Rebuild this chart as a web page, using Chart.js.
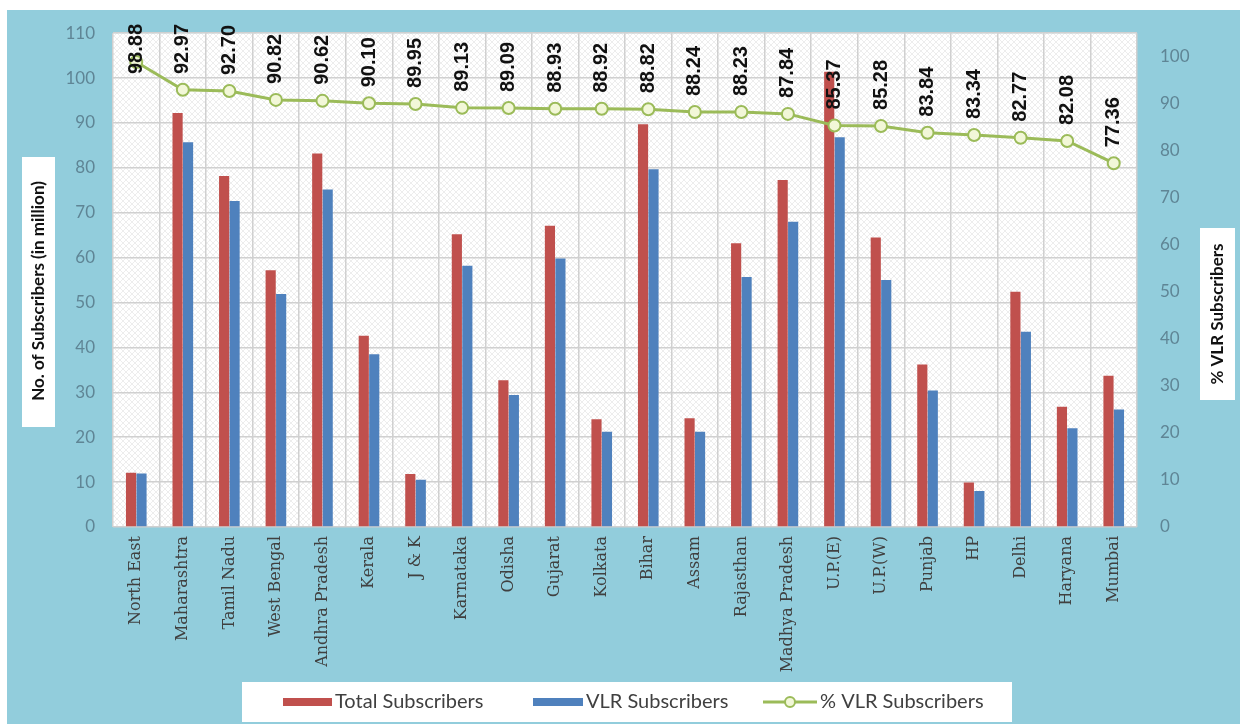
<!DOCTYPE html>
<html><head><meta charset="utf-8">
<script src="https://cdn.jsdelivr.net/npm/chart.js@4"></script>
<style>html,body{margin:0;padding:0;background:#fff;} canvas{display:block;}</style>
</head><body>
<canvas id="c" width="1240" height="724"></canvas>
<script>
const categories = ["North East","Maharashtra","Tamil Nadu","West Bengal","Andhra Pradesh","Kerala","J & K","Karnataka","Odisha","Gujarat","Kolkata","Bihar","Assam","Rajasthan","Madhya Pradesh","U.P.(E)","U.P.(W)","Punjab","HP","Delhi","Haryana","Mumbai"];
const totalSubscribers = [12.1,92.2,78.2,57.2,83.2,42.6,11.8,65.2,32.7,67.1,24.0,89.7,24.2,63.2,77.3,101.4,64.5,36.2,9.9,52.4,26.8,33.7];
const vlrSubscribers = [11.9,85.7,72.6,51.9,75.2,38.5,10.5,58.2,29.4,59.8,21.2,79.7,21.2,55.7,68.0,86.8,55.0,30.4,8.0,43.5,22.0,26.2];
const vlrPercent = [98.88,92.97,92.70,90.82,90.62,90.10,89.95,89.13,89.09,88.93,88.92,88.82,88.24,88.23,87.84,85.37,85.28,83.84,83.34,82.77,82.08,77.36];
const leftAxis = {min:0, max:110, step:10};
const rightAxis = {min:0, max:105, step:10};
const seriesNames = ["Total Subscribers","VLR Subscribers","% VLR Subscribers"];
const axisTitles = ["No. of Subscribers (in million)","% VLR Subscribers"];

const RED='#c0504d', BLUE='#4f81bd', GREEN='#9bbb59', BG='#92cddc';

function makePattern(ctx){
  const p=document.createElement('canvas'); p.width=6; p.height=6;
  const c=p.getContext('2d');
  c.fillStyle='#ffffff'; c.fillRect(0,0,6,6);
  c.strokeStyle='rgba(0,0,0,0.07)'; c.lineWidth=1;
  c.beginPath(); c.moveTo(0,0); c.lineTo(6,6); c.moveTo(6,0); c.lineTo(0,6); c.stroke();
  return ctx.createPattern(p,'repeat');
}

const decor = {
  id:'decor',
  beforeDraw(chart){
    const ctx=chart.ctx, W=chart.width, H=chart.height, a=chart.chartArea;
    ctx.save();
    ctx.fillStyle='#fff'; ctx.fillRect(0,0,W,H);
    ctx.fillStyle=BG; ctx.fillRect(7,10,W-7,H-10);
    ctx.fillStyle=makePattern(ctx); ctx.fillRect(a.left,a.top,a.right-a.left,a.bottom-a.top);
    ctx.restore();
  },
  afterDatasetsDraw(chart){
    const ctx=chart.ctx;
    const meta=chart.getDatasetMeta(0);
    ctx.save();
    ctx.font='bold 20px "Liberation Sans", Arial, sans-serif';
    ctx.fillStyle='#111';
    ctx.textAlign='left'; ctx.textBaseline='middle';
    meta.data.forEach((pt,i)=>{
      const txt=vlrPercent[i].toFixed(2);
      const w=ctx.measureText(txt).width;
      let base=pt.y-16;
      if(base-w<24) base=24+w;
      ctx.save(); ctx.translate(pt.x,base); ctx.rotate(-Math.PI/2);
      ctx.fillText(txt,0,0); ctx.restore();
    });
    ctx.restore();
  },
  afterDraw(chart){
    const ctx=chart.ctx;
    ctx.save();
    // axis titles
    ctx.font='bold 17px Lato, sans-serif';
    ctx.textAlign='center'; ctx.textBaseline='middle';
    ctx.fillStyle='#fff'; ctx.fillRect(22,157,33,270);
    ctx.fillRect(1200,228,35,172);
    ctx.fillStyle='#111';
    ctx.save(); ctx.translate(39,291); ctx.rotate(-Math.PI/2); ctx.fillText(axisTitles[0],0,0); ctx.restore();
    ctx.save(); ctx.translate(1218,314); ctx.rotate(-Math.PI/2); ctx.fillText(axisTitles[1],0,0); ctx.restore();
    // legend
    ctx.fillStyle='#fff'; ctx.fillRect(242,682,770,40);
    const cy=702;
    ctx.font='20px Lato, sans-serif'; ctx.textAlign='left';
    ctx.fillStyle=RED; ctx.fillRect(283,698,49,8);
    ctx.fillStyle='#404040'; ctx.fillText(seriesNames[0],335,cy);
    ctx.fillStyle=BLUE; ctx.fillRect(533,698,50,8);
    ctx.fillStyle='#404040'; ctx.fillText(seriesNames[1],586,cy);
    ctx.strokeStyle=GREEN; ctx.lineWidth=3; ctx.beginPath(); ctx.moveTo(763,cy); ctx.lineTo(817,cy); ctx.stroke();
    ctx.beginPath(); ctx.arc(790,cy,5,0,Math.PI*2); ctx.fillStyle='#f2f7d8'; ctx.fill(); ctx.lineWidth=2; ctx.stroke();
    ctx.fillStyle='#404040'; ctx.fillText(seriesNames[2],820,cy);
    ctx.restore();
  }
};

const tickColor='#5f8595';
new Chart(document.getElementById('c'),{
  type:'bar',
  data:{
    labels:categories,
    datasets:[
      {type:'line',label:seriesNames[2],data:vlrPercent,yAxisID:'y1',order:0,
       borderColor:GREEN,borderWidth:3,pointRadius:6,pointHoverRadius:6,pointBorderWidth:2,
       pointBorderColor:GREEN,pointBackgroundColor:'#f2f7d8',tension:0,fill:false},
      {label:seriesNames[0],data:totalSubscribers,backgroundColor:RED,yAxisID:'y',order:1,
       categoryPercentage:0.45,barPercentage:0.97},
      {label:seriesNames[1],data:vlrSubscribers,backgroundColor:BLUE,yAxisID:'y',order:1,
       categoryPercentage:0.45,barPercentage:0.97}
    ]
  },
  options:{
    responsive:false,animation:false,devicePixelRatio:1,
    layout:{padding:{top:33,left:0,right:0,bottom:47}},
    plugins:{legend:{display:false},tooltip:{enabled:false}},
    scales:{
      x:{
        grid:{color:'#d0d0d0',lineWidth:1.5,drawTicks:false,offset:true},
        border:{display:false},
        ticks:{autoSkip:false,minRotation:90,maxRotation:90,padding:9,color:'#404040',
               font:{family:'"DejaVu Serif", serif',size:16}},
        afterFit(s){s.height=150;}
      },
      y:{
        position:'left',min:leftAxis.min,max:leftAxis.max,
        ticks:{stepSize:leftAxis.step,padding:18,color:tickColor,font:{family:'Lato, sans-serif',size:17}},
        grid:{color:'#d0d0d0',lineWidth:1.5,drawTicks:false},
        border:{display:false},
        afterFit(s){s.width=113;}
      },
      y1:{
        position:'right',min:rightAxis.min,max:rightAxis.max,
        ticks:{stepSize:rightAxis.step,padding:23,color:tickColor,font:{family:'Lato, sans-serif',size:17},
               callback:(v)=> (v%10===0? v : '')},
        grid:{display:false,drawTicks:false},
        border:{display:false},
        afterFit(s){s.width=103;}
      }
    }
  },
  plugins:[decor]
});
</script>
</body></html>
